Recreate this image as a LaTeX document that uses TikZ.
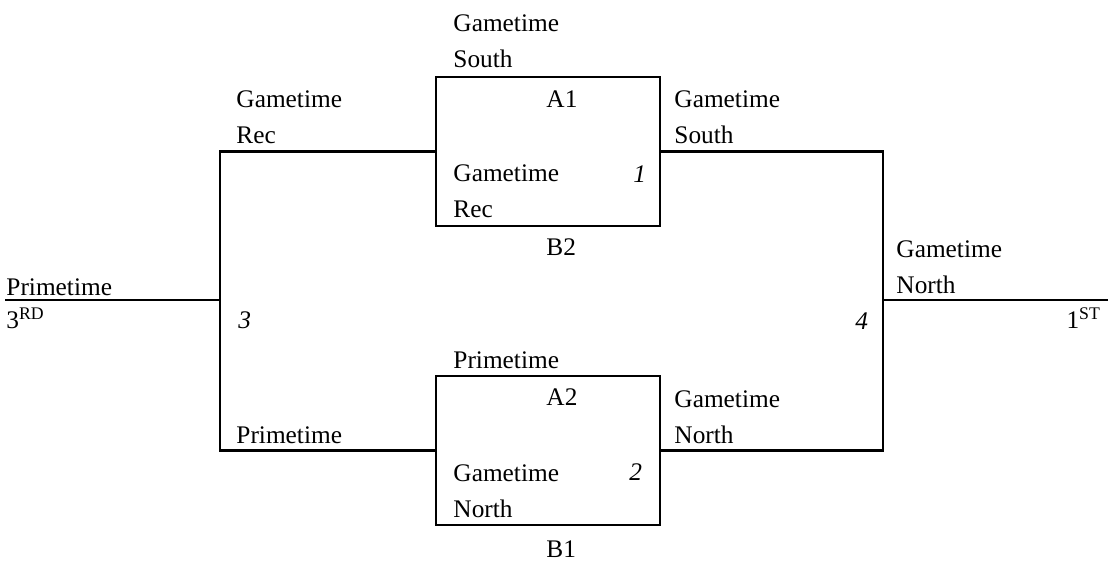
\documentclass[tikz,border=0pt]{standalone}
\usepackage{fontspec}
\setmainfont{Liberation Serif}
\usetikzlibrary{positioning}

\tikzset{
  lbl/.style={anchor=base west, inner sep=0pt, align=left},
  gamebox/.style={draw, minimum width=168pt, minimum height=111.75pt, inner sep=0pt}
}

\begin{document}
\begin{tikzpicture}[x=0.75pt,y=-0.75pt,line width=2.2pt,font=\fontsize{19pt}{27pt}\selectfont]
    \useasboundingbox (0,0) rectangle (1113,561);
    % the two games
    \node[gamebox] (G1) at (548,151.5) {};
    \node[gamebox] (G2) at (548,450.5) {};
    \coordinate (in) at (5,300);
    \coordinate (out) at (1108,300);
    \coordinate (S3) at (220,300);
    \coordinate (S3t) at (220,151.5);
    \coordinate (S3b) at (220,450.5);
    \coordinate (S4) at (883,300);
    \coordinate (S4t) at (883,151.5);
    \coordinate (S4b) at (883,450.5);

    \draw (in) -- (S3);
    \draw (G1.west) -- (S3t) -- (S3b) -- (G2.west);
    \draw (G1.east) -- (S4t) -- (S4b) -- (G2.east);
    \draw (S4) -- (out);

    % labels, placed at the baseline of their last line
    \foreach \n/\px/\py/\t in
    {PT/5/295/Primetime,
        RD/5/328/{3\textsuperscript{RD}},
        GR/235/143/{Gametime\\Rec},
        PL/235/443/Primetime,
        GS/673/143/{Gametime\\South},
        GN/673/443/{Gametime\\North},
        GF/895/293/{Gametime\\North},
        T1/452/67/{Gametime\\South},
        I1/452/217/{Gametime\\Rec},
        T2/452/368/Primetime,
        I2/452/517/{Gametime\\North},
        A1/545/107/A1,
        B2/545/255/B2,
        A2/545/405/A2,
        B1/545/557/B1,
        N1/632/182/\textit{1},
        N2/628/480/\textit{2},
        N3/237/328/\textit{3},
        N4/854/329/\textit{4}
    }
    {
        \node[lbl] (\n) at (\px,\py) {\t};
    };
    \node[lbl, anchor=base east] (ST) at (1102,328) {1\textsuperscript{ST}};
\end{tikzpicture}
\end{document}
